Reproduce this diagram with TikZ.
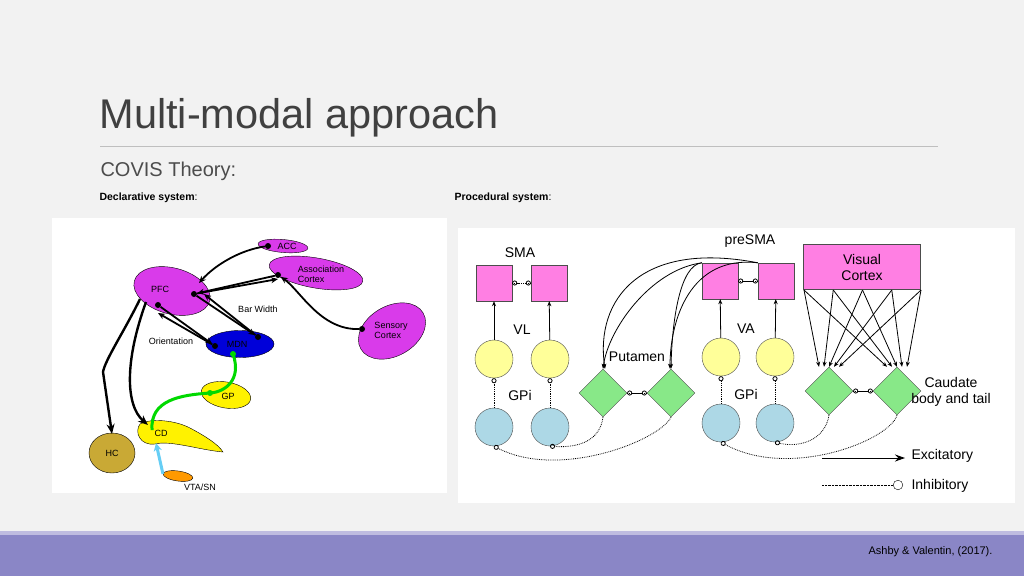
\documentclass[tikz,border=0pt]{standalone}
\usepackage{fontspec}
\setmainfont{Liberation Sans}
\usetikzlibrary{arrows.meta,shapes.geometric}
\definecolor{slide}{HTML}{F2F2F2}
\definecolor{band}{HTML}{8A86C6}
\definecolor{violet}{HTML}{D93BEA}
\definecolor{pinkbox}{HTML}{FF7FE3}
\definecolor{paleyel}{HTML}{FFFF99}
\definecolor{paleblue}{HTML}{ADD8E6}
\definecolor{palegrn}{HTML}{88E888}
\definecolor{hccol}{HTML}{C9A935}
\begin{document}
\begin{tikzpicture}[x=1pt,y=-1pt,
    blob/.style={draw=black,ellipse,inner sep=0pt},
    lbl/.style={font=\fontsize{9}{10}\selectfont,text=black},
    dot/.style={circle,fill=black,inner sep=0pt,minimum size=6pt},
    fat/.style={-{Stealth[length=10pt,width=8pt]},line width=2.4pt},
    link/.style={-{Stealth[length=7pt,width=6pt]},line width=1.8pt},
    thin/.style={-{Stealth[length=5pt,width=4pt]},line width=0.8pt},
    sq/.style={draw=black!70,fill=pinkbox,minimum size=36pt,inner sep=0pt},
    rnd/.style={circle,draw=black!70,minimum size=38pt,inner sep=0pt},
    dia/.style={diamond,draw=black!70,fill=palegrn,minimum size=48pt,inner sep=0pt},
    inh/.style={densely dotted,line width=0.8pt,-{Circle[open,length=5pt]}},
    big/.style={font=\fontsize{14}{16}\selectfont}
]
    % slide
    \fill[slide] (0,0) rectangle (1024,576);
    \useasboundingbox (0,0) rectangle (1024,576);
    \fill[band] (0,535) rectangle (1024,576);
    \fill[band!55] (0,531) rectangle (1024,535);
    \node[anchor=west,text=black!75,font=\fontsize{41.5}{44}\selectfont] (title) at (96,118) {Multi-modal approach};
    \draw[black!25] (100,146) -- (938,146);
    \node[anchor=west,text=black!70,font=\fontsize{20}{22}\selectfont] (covis) at (97,171) {COVIS Theory:};
    \node[anchor=west,font=\fontsize{10.5}{12}\selectfont] (decl) at (96,198) {\textbf{Declarative system}:};
    \node[anchor=west,font=\fontsize{10.5}{12}\selectfont] (proc) at (451,198) {\textbf{Procedural system}:};
    \node[anchor=east,font=\fontsize{11}{13}\selectfont] (cite) at (996,552) {Ashby \& Valentin, (2017).};
    \fill[white] (52,218) rectangle (447,493);
    \fill[white] (458,228) rectangle (1015,503);

    % declarative blobs
    \node[blob,fill=violet,minimum width=50pt,minimum height=13pt,rotate=-5] (acc) at (283,246) {};
    \node[blob,fill=violet,minimum width=95pt,minimum height=30pt,rotate=-10] (assoc) at (316,273) {};
    \node[blob,fill=violet,minimum width=78pt,minimum height=46pt,rotate=-15] (pfc) at (172,291) {};
    \node[blob,fill=violet,minimum width=72pt,minimum height=50pt,rotate=30] (sens) at (392,331) {};
    \node[blob,fill=blue!85!black,minimum width=68pt,minimum height=27pt] (mdn) at (240,344) {};
    \node[blob,fill=yellow,minimum width=50pt,minimum height=26pt,rotate=-10] (gp) at (226,395) {};
    \draw[fill=yellow] (140,424) .. controls (150,418) and (175,420) .. (190,428)
        .. controls (205,436) and (218,444) .. (223,452)
        .. controls (200,450) and (170,440) .. (155,444)
        .. controls (140,446) and (134,432) .. (140,424);
    \node[blob,fill=hccol,minimum width=46pt,minimum height=40pt] (hc) at (112,453) {};
    \node[blob,fill=orange!80!yellow,minimum width=30pt,minimum height=10pt,rotate=-8] (vta) at (178,476) {};

    \node[lbl] (accT) at (287,246) {ACC};
    \node[lbl,align=left] (assocT) at (321,274) {Association\\Cortex};
    \node[lbl] (pfcT) at (160,289) {PFC};
    \node[lbl,align=left] (sensT) at (391,330) {Sensory\\Cortex};
    \node[lbl] (barT) at (258,309) {Bar Width};
    \node[lbl] (oriT) at (171,341) {Orientation};

    \node[dot] (d1) at (268,246) {};
    \node[dot] (d2) at (278,275) {};
    \node[dot] (d3) at (194,294) {};
    \node[dot] (d4) at (158,305) {};
    \node[dot] (d5) at (362,329) {};
    \node[dot] (d6) at (215,346) {};
    \node[dot] (d7) at (258,337) {};
    \coordinate (pfcA) at (199,283);
    \coordinate (hcTop) at (112,434);
    \coordinate (cdTop) at (148,425);

    \draw[link] (d1) .. controls (240,250) and (215,265) .. (pfcA);
    \draw[link] (d2) -- (d3);
    \draw[link] (d3) -- ([yshift=-4pt]d2.center);
    \draw[link] (d5) .. controls (320,330) and (300,290) .. (d2);
    \draw[link] (d3) -- (d7);
    \draw[link] (d7) -- ([xshift=10pt]d3.center);
    \draw[link] (d4) -- (d6);
    \draw[link] (d6) -- ([yshift=-8pt]d4.center);
    \draw[fat] (140,299) .. controls (125,330) and (105,360) .. (103,372) -- (hcTop);
    \draw[fat] (146,302) .. controls (125,360) and (125,405) .. (cdTop);
    \draw[line width=3pt,green!85!black] (233,354) .. controls (242,380) and (225,392) .. (210,393)
        .. controls (180,395) and (150,400) .. (152,430);
    \node[circle,fill=green!85!black,inner sep=0pt,minimum size=6pt] (gdot1) at (233,354) {};
    \node[circle,fill=green!85!black,inner sep=0pt,minimum size=6pt] (gdot2) at (210,393) {};
    \draw[-{Stealth[length=8pt,width=8pt]},line width=3pt,cyan!60] (vta.west) -- (156,443);
    \node[lbl] (mdnT) at (237,344) {MDN};
    \node[lbl] (gpT) at (228,396) {GP};
    \node[lbl] (cdT) at (161,433) {CD};
    \node[lbl] (hcT) at (112,453) {HC};
    \node[lbl] (vtaT) at (200,487) {VTA/SN};

    % procedural system
    \node[sq] (sma1) at (494,283) {};
    \node[sq] (sma2) at (549,283) {};
    \node[sq] (pre1) at (720,281) {};
    \node[sq] (pre2) at (776,281) {};
    \node[draw=black!70,fill=pinkbox,minimum width=117pt,minimum height=45pt,align=center,big] (vis) at (862,267) {Visual\\Cortex};
    \node[rnd,fill=paleyel] (vl1) at (494,359) {};
    \node[rnd,fill=paleyel] (vl2) at (550,359) {};
    \node[rnd,fill=paleyel] (va1) at (721,357) {};
    \node[rnd,fill=paleyel] (va2) at (775,357) {};
    \node[rnd,fill=paleblue] (gp1) at (494,427) {};
    \node[rnd,fill=paleblue] (gp2) at (550,427) {};
    \node[rnd,fill=paleblue] (gp3) at (721,423) {};
    \node[rnd,fill=paleblue] (gp4) at (775,423) {};
    \node[dia] (pu1) at (603,393) {};
    \node[dia] (pu2) at (671,393) {};
    \node[dia] (ca1) at (829,391) {};
    \node[dia] (ca2) at (897,391) {};

    \node[big] (smaT) at (520,253) {SMA};
    \node[big] (preT) at (750,241) {preSMA};
    \node[big] (vlT) at (522,330) {VL};
    \node[big] (vaT) at (746,329) {VA};
    \node[big] (gpiT1) at (520,395) {GPi};
    \node[big] (gpiT2) at (746,394) {GPi};
    \node[big] (putT) at (637,357) {Putamen};
    \node[big,align=center] (cauT) at (951,392) {Caudate\\body and tail};

    \foreach \a/\b in {vl1/sma1,vl2/sma2,va1/pre1,va2/pre2}
        \draw[thin] (\a) -- (\b);
    \foreach \a/\b in {gp1/vl1,gp2/vl2,gp3/va1,gp4/va2}
        \draw[inh] (\a) -- (\b);
    \draw[inh] (sma1) -- (sma2);
    \draw[inh] (sma2) -- (sma1);
    \draw[inh] (pre1) -- (pre2);
    \draw[inh] (pre2) -- (pre1);
    \draw[inh] (pu1) -- (pu2);
    \draw[inh] (pu2) -- (pu1);
    \draw[inh] (ca1) -- (ca2);
    \draw[inh] (ca2) -- (ca1);
    % preSMA to putamen
    \draw[thin] (pre1.north west) .. controls (650,270) and (608,330) .. (pu1.north);
    \draw[thin] (pre2.north west) .. controls (640,240) and (595,300) .. ([xshift=2pt]pu1.north);
    \draw[thin] (pre1.north west) .. controls (680,265) and (672,320) .. (pu2.north);
    \draw[thin] (pre2.north west) .. controls (690,255) and (670,320) .. ([xshift=-1pt]pu2.north);
    % visual cortex to caudate
    \foreach \i in {0,1,2,3,4} {
        \coordinate (v\i) at (804+\i*29.25,290);
        \draw[thin] (v\i) -- ([xshift=-10pt+\i*5pt]ca1.north);
        \draw[thin] (v\i) -- ([xshift=-10pt+\i*5pt]ca2.north);
    }
    % inhibitory loops
    \draw[inh] (pu1.south) .. controls (600,440) and (580,448) .. (gp2.south);
    \draw[inh] (pu2.south) .. controls (660,440) and (560,480) .. (gp1.south);
    \draw[inh] (ca1.south) .. controls (825,440) and (800,448) .. (gp4.south);
    \draw[inh] (ca2.south) .. controls (890,440) and (790,480) .. (gp3.south);
    % legend
    \coordinate (le1) at (822,458);
    \coordinate (le2) at (905,458);
    \coordinate (li1) at (822,485);
    \coordinate (li2) at (903,485);
    \draw[-{Stealth[length=10pt,width=7pt]},line width=1pt] (le1) -- (le2);
    \draw[densely dotted,-{Circle[open,length=10pt]}] (li1) -- (li2);
    \node[big,anchor=west] (exT) at (908,456) {Excitatory};
    \node[big,anchor=west] (inT) at (908,486) {Inhibitory};
\end{tikzpicture}
\end{document}
